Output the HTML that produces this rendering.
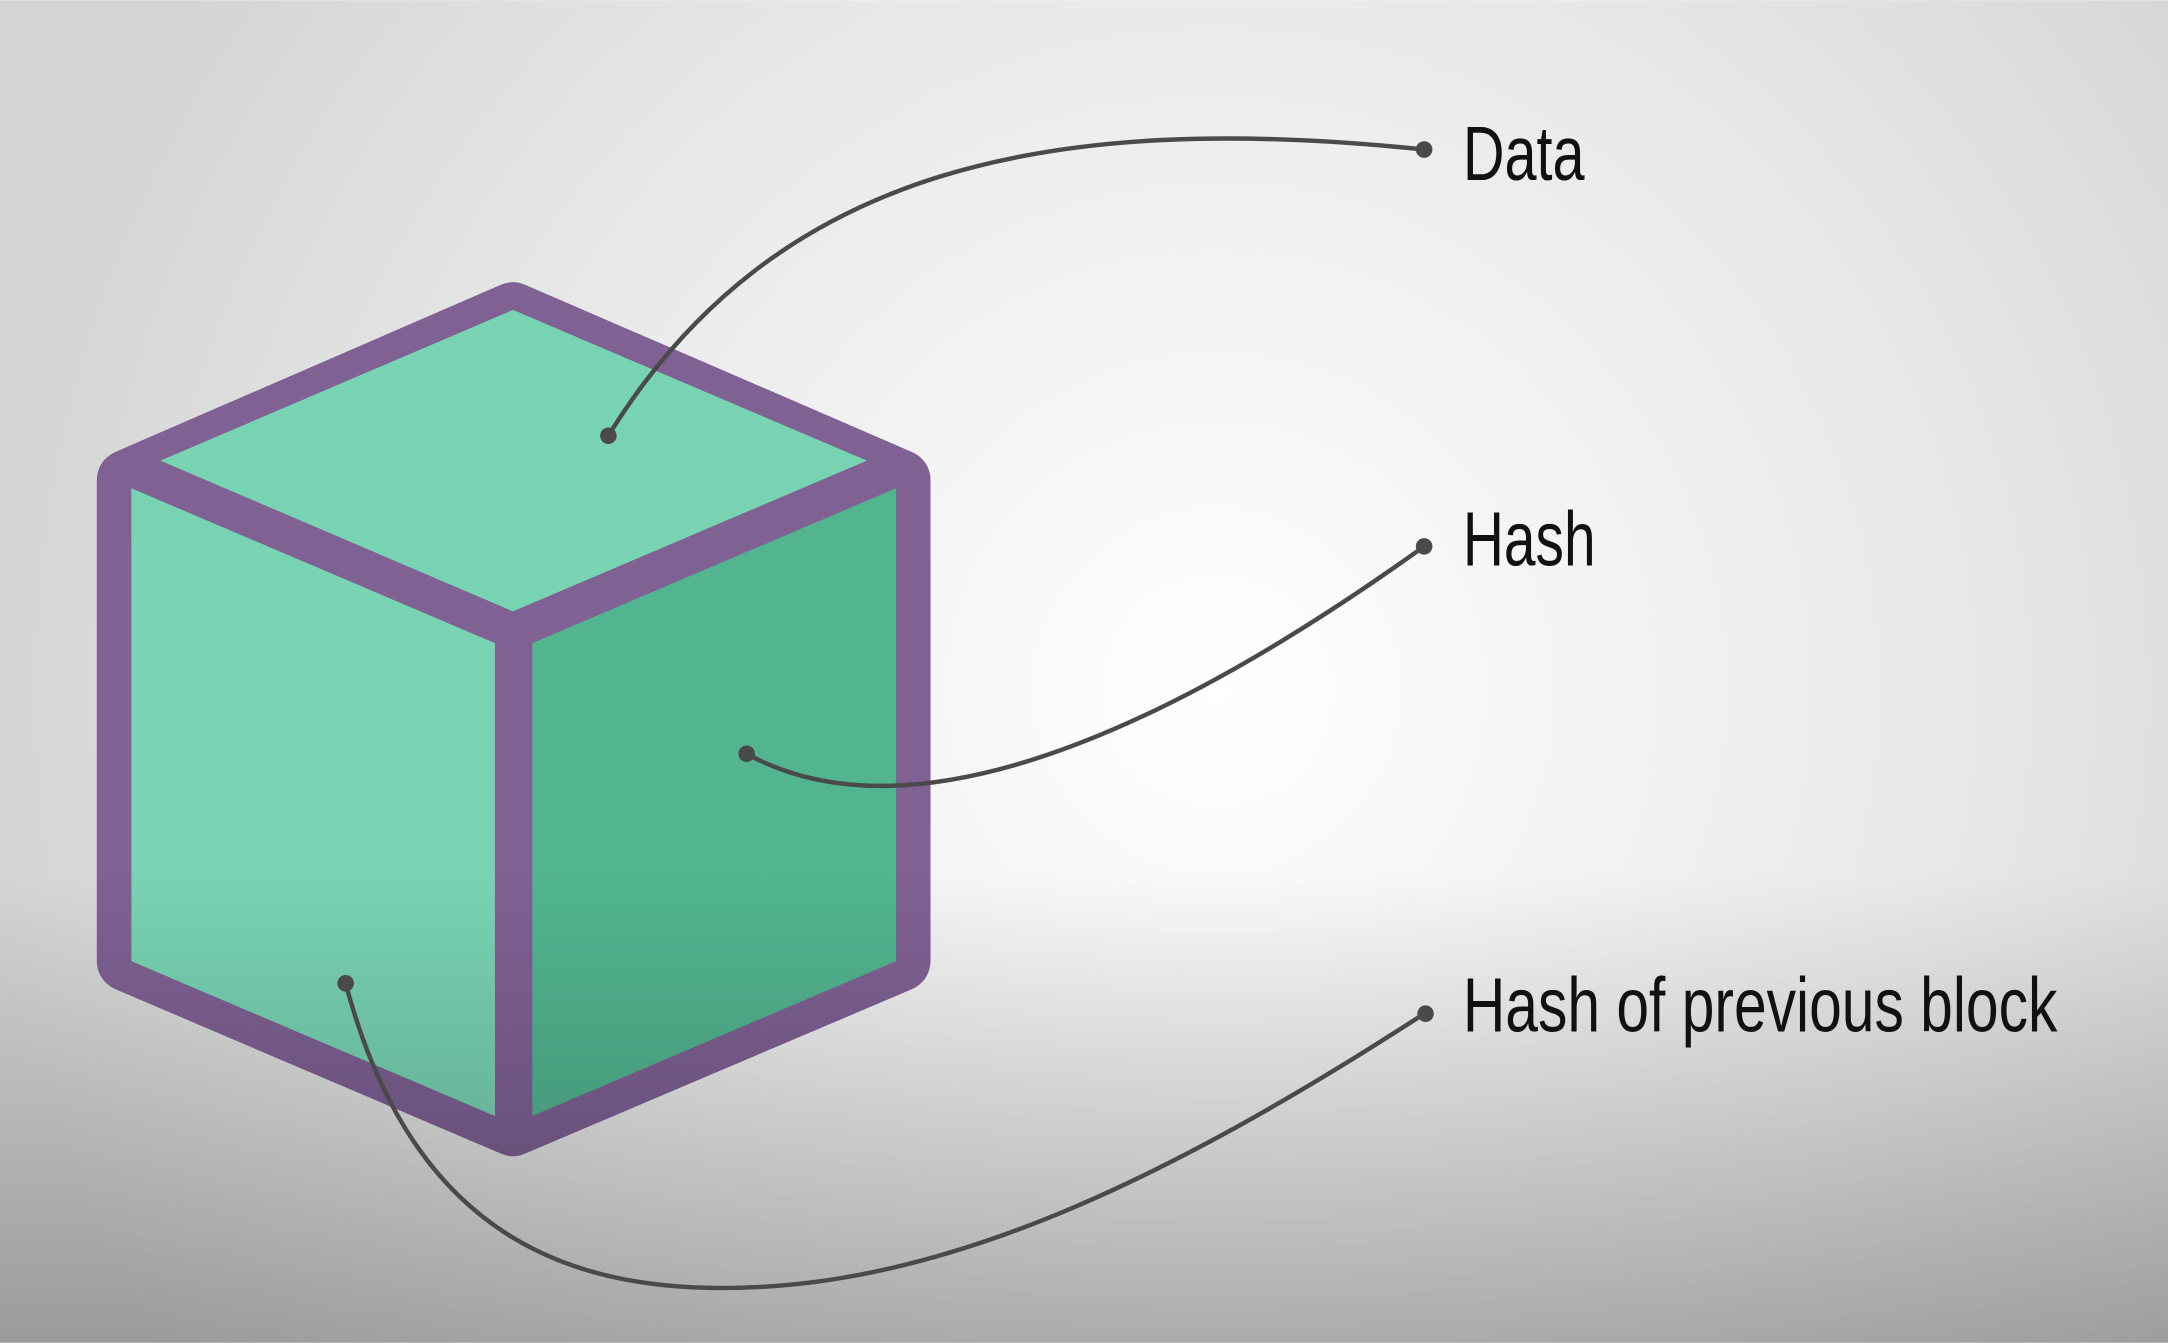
<!DOCTYPE html>
<html><head><meta charset="utf-8"><style>
html,body{margin:0;padding:0;width:2168px;height:1343px;overflow:hidden}
svg{display:block}
</style></head><body>
<svg width="2168" height="1343" viewBox="0 0 1568 971" xmlns="http://www.w3.org/2000/svg">
<defs>
<radialGradient id="bg" cx="880" cy="500" r="900" gradientUnits="userSpaceOnUse">
<stop offset="0" stop-color="#ffffff"/>
<stop offset="0.6" stop-color="#e8e8e8"/>
<stop offset="1" stop-color="#d4d4d4"/>
</radialGradient>
<linearGradient id="dark" x1="0" y1="630" x2="0" y2="971" gradientUnits="userSpaceOnUse">
<stop offset="0" stop-color="#000" stop-opacity="0"/>
<stop offset="1" stop-color="#000" stop-opacity="0.27"/>
</linearGradient>
</defs>
<rect width="1568" height="971" fill="url(#bg)"/>
<path d="M371,226 L92,347 L92,695 L371,814 L651,695 L651,347 Z" fill="#7f6194" stroke="#7f6194" stroke-width="44" stroke-linejoin="round"/>
<polygon points="371,224 116,333 371,442 627,333" fill="#78d3b2"/>
<polygon points="95,353 358,465 358,807 95,695" fill="#78d3b2"/>
<polygon points="385,465 648,353 648,695 385,807" fill="#52b590"/>
<rect width="1568" height="971" fill="url(#dark)"/>
<g fill="none" stroke="#4a4a4a" stroke-width="3.2">
<path d="M440,315 C560,120 760,80 1030,108"/>
<path d="M540,545 C640,600 800,560 1030,395"/>
<path d="M250,711 C300,900 420,940 560,930 C700,920 850,850 1030,733"/>
</g>
<g fill="#4a4a4a">
<circle cx="440" cy="315" r="6"/><circle cx="1030" cy="108" r="6"/>
<circle cx="540" cy="545" r="6"/><circle cx="1030" cy="395" r="6"/>
<circle cx="250" cy="711" r="6"/><circle cx="1031" cy="733" r="6"/>
</g>
<g font-family="'Liberation Sans Narrow','Liberation Sans',sans-serif" font-size="56" fill="#111">
<text x="1058" y="130" textLength="88" lengthAdjust="spacingAndGlyphs">Data</text>
<text x="1058" y="409" textLength="96" lengthAdjust="spacingAndGlyphs">Hash</text>
<text x="1058" y="746" textLength="430" lengthAdjust="spacingAndGlyphs">Hash of previous block</text>
</g>
</svg>
</body></html>
